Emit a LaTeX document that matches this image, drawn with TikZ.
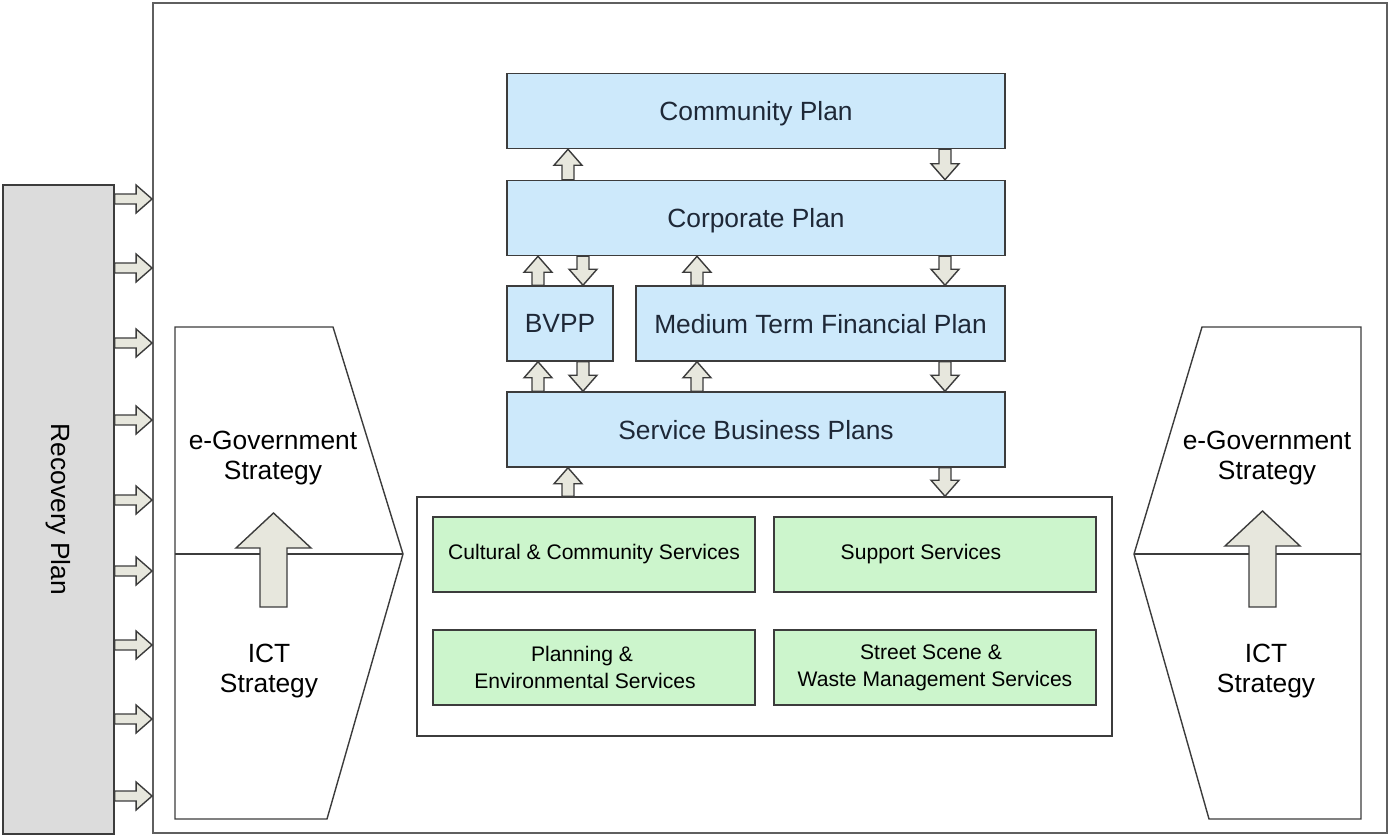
\documentclass[tikz,border=0pt]{standalone}
\usepackage{fontspec}
\setmainfont{Liberation Sans}
\usetikzlibrary{calc}

\definecolor{planblue}{RGB}{205,233,251}
\definecolor{servgreen}{RGB}{204,245,204}
\definecolor{arrowfill}{RGB}{231,231,221}
\definecolor{recgray}{RGB}{220,220,220}
\definecolor{edgegray}{RGB}{60,60,60}
\definecolor{framegray}{RGB}{95,95,95}
\definecolor{plantext}{RGB}{30,40,55}

% block arrow sizes (shaft half width, head half width, head length)
\newcommand{\shaftw}{0.12cm}
\newcommand{\headw}{0.28cm}
\newcommand{\headl}{0.32cm}
% pushes a centred line of text a little to the left
\newcommand{\lpad}[1]{\rule{#1}{0pt}}

\begin{document}
\begin{tikzpicture}[x=0.02cm,y=-0.02cm,line join=miter]
  \tikzset{plan/.style={draw=edgegray,fill=planblue,line width=0.9pt,inner sep=0pt,
      minimum height=1.5cm,text depth=0pt,text=plantext,font=\fontsize{15}{18}\selectfont}}
  \tikzset{service/.style={draw=edgegray,fill=servgreen,line width=0.9pt,inner sep=0pt,
      minimum width=6.44cm,minimum height=1.5cm,align=center,font=\fontsize{12}{15.3}\selectfont}}
  \tikzset{pane/.style={draw=edgegray,line width=0.8pt}}
  \tikzset{label/.style={align=center,font=\fontsize{15}{17.6}\selectfont}}
  \tikzset{wide/.code={\def\shaftw{0.27cm}\def\headw{0.75cm}\def\headl{0.70cm}}}
  \tikzset{flowup/.style={draw=edgegray,fill=arrowfill,line width=0.8pt,
      to path={let \p1=(\tikztostart), \p2=(\tikztotarget) in
        (\x1-\shaftw,\y1) -- (\x1-\shaftw,\y2-\headl) -- (\x1-\headw,\y2-\headl) -- (\x1,\y2)
        -- (\x1+\headw,\y2-\headl) -- (\x1+\shaftw,\y2-\headl) -- (\x1+\shaftw,\y1) -- cycle}}}
  \tikzset{flowdown/.style={draw=edgegray,fill=arrowfill,line width=0.8pt,
      to path={let \p1=(\tikztostart), \p2=(\tikztotarget) in
        (\x1-\shaftw,\y1) -- (\x1-\shaftw,\y2+\headl) -- (\x1-\headw,\y2+\headl) -- (\x1,\y2)
        -- (\x1+\headw,\y2+\headl) -- (\x1+\shaftw,\y2+\headl) -- (\x1+\shaftw,\y1) -- cycle}}}
  \tikzset{flowright/.style={draw=edgegray,fill=arrowfill,line width=0.8pt,
      to path={let \p1=(\tikztostart), \p2=(\tikztotarget) in
        (\x1,\y1+0.10cm) -- (\x2-\headl,\y1+0.10cm) -- (\x2-\headl,\y1+\headw) -- (\x2,\y1)
        -- (\x2-\headl,\y1-\headw) -- (\x2-\headl,\y1-0.10cm) -- (\x1,\y1-0.10cm) -- cycle}}}
  \useasboundingbox (0,0) rectangle (1392,837);

  % outer frame and recovery plan
  \node[draw=framegray,line width=1.2pt,inner sep=0pt,minimum width=24.68cm,minimum height=16.6cm] (frame) at (770,418) {};
  \node[draw=edgegray,fill=recgray,line width=0.9pt,inner sep=0pt,minimum width=2.22cm,minimum height=12.98cm] (rec) at (58.5,509.5) {};
  \node[label,rotate=-90] (rectext) at (rec.center) {Recovery Plan};

  % plans
  \node[plan,minimum width=9.96cm] (comm) at (756,111) {Community Plan};
  \node[plan,minimum width=9.96cm] (corp) at (756,218) {Corporate Plan};
  \node[plan,minimum width=2.12cm] (bvpp) at (560,323.5) {BVPP};
  \node[plan,minimum width=7.38cm] (mtfp) at (820.5,323.5) {Medium Term Financial Plan};
  \node[plan,minimum width=9.96cm] (sbp) at (756,429.5) {Service Business Plans};

  % services
  \node[draw=edgegray,line width=0.9pt,inner sep=0pt,minimum width=13.9cm,minimum height=4.78cm] (svc) at (764.5,616.5) {};
  \node[service] (ccs) at (594,554.5) {Cultural \& Community Services};
  \node[service] (sup) at (935,554.5) {Support Services\lpad{0.56cm}};
  \node[service] (pes) at (594,667.5) {Planning \&\lpad{0.48cm}\\Environmental Services\lpad{0.36cm}};
  \node[service] (sws) at (935,667.5) {Street Scene \&\lpad{0.16cm}\\Waste Management Services};

  % strategy panes
  \draw[pane] (175,327) -- (333,327) -- (403,554) -- (327,819) -- (175,819) -- cycle;
  \draw[pane] (175,554) -- (403,554);
  \draw[pane] (1361,327) -- (1202,327) -- (1134,554) -- (1209,819) -- (1361,819) -- cycle;
  \draw[pane] (1134,554) -- (1361,554);
  \node[label] (egovL) at (273,458) {e-Government\\Strategy};
  \node[label] (ictL) at (269,671) {ICT\\Strategy};
  \node[label] (egovR) at (1267,458) {e-Government\\Strategy};
  \node[label] (ictR) at (1266,671) {ICT\\Strategy};
  \coordinate (footL) at (273.5,607);
  \coordinate (tipL) at (273.5,513);
  \coordinate (footR) at (1262.5,607);
  \coordinate (tipR) at (1262.5,511);
  \draw[flowup,wide] (footL) to (tipL);
  \draw[flowup,wide] (footR) to (tipR);

  % links between plans
  \draw[flowup] (corp.north -| 568,0) to (comm.south -| 568,0);
  \draw[flowdown] (comm.south -| 945,0) to (corp.north -| 945,0);
  \draw[flowup] (bvpp.north -| 538,0) to (corp.south -| 538,0);
  \draw[flowdown] (corp.south -| 583,0) to (bvpp.north -| 583,0);
  \draw[flowup] (mtfp.north -| 697,0) to (corp.south -| 697,0);
  \draw[flowdown] (corp.south -| 945,0) to (mtfp.north -| 945,0);
  \draw[flowup] (sbp.north -| 538,0) to (bvpp.south -| 538,0);
  \draw[flowdown] (bvpp.south -| 583,0) to (sbp.north -| 583,0);
  \draw[flowup] (sbp.north -| 697,0) to (mtfp.south -| 697,0);
  \draw[flowdown] (mtfp.south -| 945,0) to (sbp.north -| 945,0);
  \draw[flowup] (svc.north -| 568,0) to (sbp.south -| 568,0);
  \draw[flowdown] (sbp.south -| 945,0) to (svc.north -| 945,0);

  % recovery plan feeds
  \draw[flowright] (rec.east |- 0,199) to (frame.west |- 0,199);
  \draw[flowright] (rec.east |- 0,268) to (frame.west |- 0,268);
  \draw[flowright] (rec.east |- 0,343) to (frame.west |- 0,343);
  \draw[flowright] (rec.east |- 0,420) to (frame.west |- 0,420);
  \draw[flowright] (rec.east |- 0,500) to (frame.west |- 0,500);
  \draw[flowright] (rec.east |- 0,571) to (frame.west |- 0,571);
  \draw[flowright] (rec.east |- 0,645) to (frame.west |- 0,645);
  \draw[flowright] (rec.east |- 0,719) to (frame.west |- 0,719);
  \draw[flowright] (rec.east |- 0,796) to (frame.west |- 0,796);
\end{tikzpicture}
\end{document}
